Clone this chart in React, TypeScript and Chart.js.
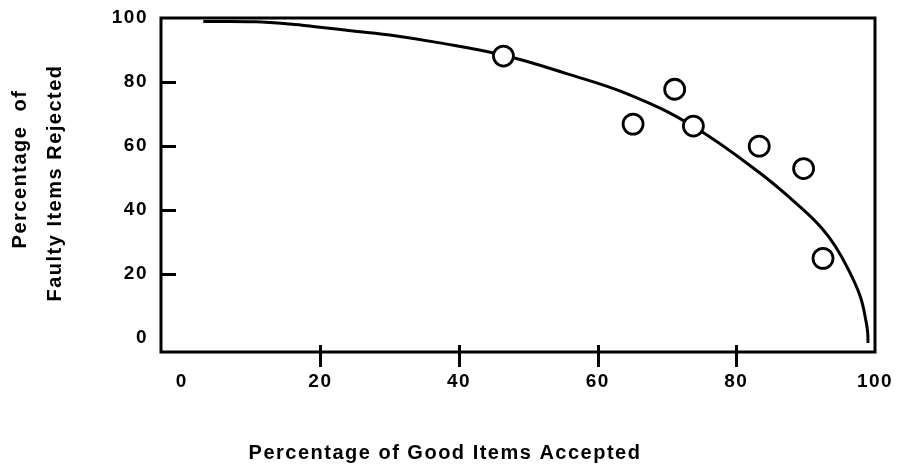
import React, { useEffect, useRef } from "react";
import { Chart, registerables } from "chart.js";

Chart.register(...registerables);

const X_TICKS = [0, 20, 40, 60, 80, 100];
const Y_TICKS = [0, 20, 40, 60, 80, 100];
const X_TICK_MARKS = [20, 40, 60, 80];
const Y_TICK_MARKS = [20, 40, 60, 80];

const POINT_X = [46.4, 65.1, 71.1, 73.8, 83.3, 89.7, 92.5];
const POINT_Y = [88.1, 66.8, 77.7, 66.2, 59.9, 52.9, 24.8];

const CURVE_X = [3.1, 10.6, 15.6, 19.9, 25.3, 30.0, 37.0, 46.3, 55.5, 64.7, 73.7, 83.4, 89.4, 92.3, 94.3, 96.2, 97.9, 98.75, 98.95, 98.99];
const CURVE_Y = [98.9, 98.8, 98.1, 97.1, 95.8, 94.7, 92.3, 88.4, 82.6, 75.9, 66.2, 51.5, 40.5, 34.3, 28.5, 21.1, 12.7, 4.6, 1.4, -1.7];

const X_TITLE = "Percentage of Good Items Accepted";
const Y_TITLE = ["Percentage  of", "Faulty Items Rejected"];

const FONT_FAMILY = '"Liberation Sans", Arial, sans-serif';

const framePlugin = {
  id: "framePlugin",
  beforeDraw(chart: any) {
    const ctx = chart.ctx;
    ctx.save();
    ctx.fillStyle = "#fff";
    ctx.fillRect(0, 0, chart.width, chart.height);
    ctx.restore();
    ctx.letterSpacing = "1.5px";
  },
  afterDraw(chart: any) {
    const ctx = chart.ctx;
    const a = chart.chartArea;
    const xs = chart.scales.x;
    const ys = chart.scales.y;
    ctx.save();
    ctx.strokeStyle = "#000";
    ctx.lineWidth = 3;
    ctx.strokeRect(a.left, a.top, a.right - a.left, a.bottom - a.top);
    ctx.beginPath();
    for (const v of Y_TICK_MARKS) {
      const py = Math.round(ys.getPixelForValue(v)) + 0.5;
      ctx.moveTo(a.left, py);
      ctx.lineTo(a.left + 15, py);
    }
    for (const v of X_TICK_MARKS) {
      const px = Math.round(xs.getPixelForValue(v)) + 0.5;
      ctx.moveTo(px, a.bottom - 7);
      ctx.lineTo(px, a.bottom + 15);
    }
    ctx.stroke();

    ctx.fillStyle = "#000";
    ctx.letterSpacing = "1.5px";
    ctx.font = `bold 20px ${FONT_FAMILY}`;
    ctx.textAlign = "center";
    ctx.textBaseline = "middle";
    ctx.fillText(X_TITLE, 445, 453);

    const yCenters = [
      [20, 169],
      [55, 183],
    ];
    Y_TITLE.forEach((line, i) => {
      ctx.save();
      ctx.translate(yCenters[i][0], yCenters[i][1]);
      ctx.rotate(-Math.PI / 2);
      ctx.fillText(line, 0, 0);
      ctx.restore();
    });
    ctx.restore();
  },
};

const zeroPadding = (s: any) => {
  s.paddingTop = 0;
  s.paddingBottom = 0;
  s.paddingLeft = 0;
  s.paddingRight = 0;
};

export default function App() {
  const ref = useRef<HTMLCanvasElement | null>(null);

  useEffect(() => {
    if (!ref.current) return;
    const tickFont = { family: FONT_FAMILY, size: 19, weight: "bold" as const };
    const chart = new Chart(ref.current, {
      type: "scatter",
      data: {
        datasets: [
          {
            label: "Observed",
            data: POINT_X.map((x, i) => ({ x, y: POINT_Y[i] })),
            pointRadius: 10,
            pointHoverRadius: 10,
            borderWidth: 2.8,
            borderColor: "#000",
            backgroundColor: "#fff",
            showLine: false,
            order: 0,
          },
          {
            label: "Curve",
            data: CURVE_X.map((x, i) => ({ x, y: CURVE_Y[i] })),
            showLine: true,
            pointRadius: 0,
            borderColor: "#000",
            borderWidth: 3,
            tension: 0.4,
            fill: false,
            order: 1,
          },
        ],
      },
      options: {
        responsive: false,
        animation: false,
        devicePixelRatio: 1,
        layout: { padding: { top: 18, right: 24, left: 0, bottom: 0 } },
        plugins: {
          legend: { display: false },
          tooltip: { enabled: false },
          title: { display: false },
        },
        events: [],
        scales: {
          x: {
            type: "linear",
            min: -3,
            max: 100,
            grid: { display: false, drawTicks: false },
            border: { display: false },
            ticks: {
              font: tickFont,
              color: "#000",
              padding: 18,
              maxRotation: 0,
              autoSkip: false,
            },
            afterBuildTicks: (s: any) => {
              s.ticks = X_TICKS.map((v) => ({ value: v }));
            },
            afterFit: (s: any) => {
              s.height = 114;
              zeroPadding(s);
            },
          },
          y: {
            type: "linear",
            min: -4.5,
            max: 100,
            grid: { display: false, drawTicks: false },
            border: { display: false },
            ticks: {
              font: tickFont,
              color: "#000",
              padding: 13,
              autoSkip: false,
            },
            afterBuildTicks: (s: any) => {
              s.ticks = Y_TICKS.map((v) => ({ value: v }));
            },
            afterFit: (s: any) => {
              s.width = 161;
              zeroPadding(s);
            },
          },
        },
      },
      plugins: [framePlugin],
    });
    return () => chart.destroy();
  }, []);

  return (
    <div style={{ position: "absolute", left: 0, top: 0, width: 899, height: 466, background: "#fff" }}>
      <canvas ref={ref} width={899} height={466} style={{ display: "block" }} />
    </div>
  );
}
